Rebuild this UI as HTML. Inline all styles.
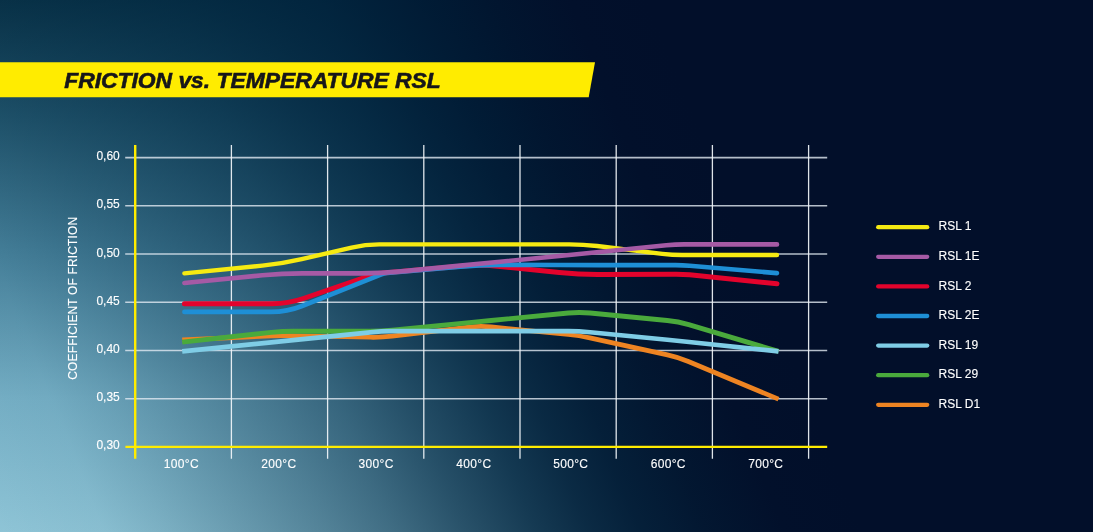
<!DOCTYPE html>
<html><head><meta charset="utf-8"><title>Friction vs. Temperature RSL</title>
<style>
html,body{margin:0;padding:0;}
body{width:1093px;height:532px;overflow:hidden;background:#020f2a;font-family:"Liberation Sans",sans-serif;}
#wrap{position:relative;width:1093px;height:532px;overflow:hidden;
 background:
  linear-gradient(68deg, rgba(0,42,68,0) 0%, rgba(0,42,68,0.04) 8%, rgba(0,42,68,0.13) 12.5%, rgba(0,40,66,0.30) 20%, rgba(0,39,65,0.42) 25%, rgba(0,38,64,0.55) 30%, rgba(0,36,62,0.71) 35.5%, rgba(0,34,60,0.85) 41%, rgba(0,30,56,0.92) 45%, rgba(0,26,52,0.965) 49%, rgba(1,21,47,0.99) 54%, rgba(2,16,43,1) 60%, rgba(2,15,42,1) 66%),
  linear-gradient(to bottom, #0a3348 0%, #22566e 22%, #46819b 47%, #76b0c6 75%, #8ec4d6 100%);
}
svg{position:absolute;left:0;top:0;will-change:transform;}
text{font-family:"Liberation Sans",sans-serif;}
</style></head><body><div id="wrap">
<svg width="1093" height="532" viewBox="0 0 1093 532">

<polygon points="0,62.2 595,62.2 588.7,97.2 0,97.2" fill="#ffec00"/>
<text x="64.2" y="88" font-size="22" font-weight="bold" font-style="italic" fill="#16161a" stroke="#16161a" stroke-width="0.6" textLength="376.5" lengthAdjust="spacingAndGlyphs">FRICTION vs. TEMPERATURE RSL</text>
<g stroke="#e2eaf2" stroke-opacity="0.8" stroke-width="1.6" fill="none">
<line x1="125.2" y1="157.60" x2="827.2" y2="157.60"/>
<line x1="125.2" y1="205.82" x2="827.2" y2="205.82"/>
<line x1="125.2" y1="254.04" x2="827.2" y2="254.04"/>
<line x1="125.2" y1="302.26" x2="827.2" y2="302.26"/>
<line x1="125.2" y1="350.48" x2="827.2" y2="350.48"/>
<line x1="125.2" y1="398.70" x2="827.2" y2="398.70"/>
</g>
<g stroke="#f2f6fa" stroke-opacity="0.92" stroke-width="1.3" fill="none">
<line x1="231.40" y1="145" x2="231.40" y2="458.8"/>
<line x1="327.60" y1="145" x2="327.60" y2="458.8"/>
<line x1="423.80" y1="145" x2="423.80" y2="458.8"/>
<line x1="520.00" y1="145" x2="520.00" y2="458.8"/>
<line x1="616.20" y1="145" x2="616.20" y2="458.8"/>
<line x1="712.40" y1="145" x2="712.40" y2="458.8"/>
<line x1="808.60" y1="145" x2="808.60" y2="458.8"/>
</g>
<path d="M182.20 339.87 L271.21 336.01 Q282.20 335.53 293.20 335.75 L370.20 337.25 Q381.20 337.46 392.13 336.18 L469.27 327.16 Q480.20 325.89 491.15 326.95 L568.25 334.47 Q579.20 335.53 589.94 337.89 L667.46 354.88 Q678.20 357.23 688.35 361.48 L778.50 399.18" stroke="#ee8422" stroke-width="4.7" fill="none" stroke-linecap="butt" stroke-linejoin="round"/>
<path d="M182.20 342.09 L271.26 332.38 Q282.20 331.19 293.20 331.19 L370.20 331.19 Q381.20 331.19 392.15 330.13 L469.25 322.61 Q480.20 321.55 491.15 320.48 L568.25 312.97 Q579.20 311.90 590.15 312.97 L667.25 320.48 Q678.20 321.55 688.74 324.69 L778.50 351.44" stroke="#4aaa3c" stroke-width="4.9" fill="none" stroke-linecap="butt" stroke-linejoin="round"/>
<path d="M182.20 351.44 L271.26 342.43 Q282.20 341.32 293.14 340.20 L370.26 332.31 Q381.20 331.19 392.20 331.19 L469.20 331.19 Q480.20 331.19 491.20 331.19 L568.20 331.19 Q579.20 331.19 590.15 332.26 L667.25 339.77 Q678.20 340.84 689.14 341.99 L778.50 351.44" stroke="#7fcde6" stroke-width="4.7" fill="none" stroke-linecap="butt" stroke-linejoin="round"/>
<path d="M184.40 303.71 L272.20 303.71 Q288.20 303.71 303.33 298.51 L372.36 274.79 Q375.20 273.81 378.19 273.54 L460.28 266.15 Q480.20 264.36 500.10 266.39 L559.30 272.45 Q579.20 274.49 599.20 274.41 L675.70 274.13 Q682.70 274.10 689.66 274.81 L777.00 283.74" stroke="#e3032c" stroke-width="5.0" fill="none" stroke-linecap="round" stroke-linejoin="round"/>
<path d="M184.40 311.90 L271.20 311.90 Q287.20 311.90 302.07 305.99 L381.41 274.44 Q384.20 273.33 387.19 273.06 L460.28 266.60 Q480.20 264.84 500.20 264.90 L559.20 265.07 Q579.20 265.13 599.20 265.13 L675.70 265.13 Q682.70 265.13 689.67 265.72 L777.00 273.14" stroke="#1e8fd6" stroke-width="4.6" fill="none" stroke-linecap="round" stroke-linejoin="round"/>
<path d="M184.40 273.33 L262.30 265.65 Q282.20 263.68 301.68 259.16 L351.56 247.56 Q365.20 244.40 379.20 244.40 L460.20 244.40 Q480.20 244.40 500.20 244.40 L569.20 244.40 Q583.20 244.40 597.10 246.05 L662.27 253.82 Q672.20 255.00 682.20 255.00 L777.00 255.00" stroke="#f6ea12" stroke-width="4.4" fill="none" stroke-linecap="round" stroke-linejoin="round"/>
<path d="M184.40 282.97 L262.30 275.29 Q282.20 273.33 302.20 273.33 L361.20 273.33 Q381.20 273.33 401.11 271.39 L460.29 265.62 Q480.20 263.68 500.11 261.74 L559.29 255.98 Q579.20 254.04 599.10 252.04 L666.25 245.30 Q675.20 244.40 684.20 244.40 L777.00 244.40" stroke="#a55aa5" stroke-width="4.6" fill="none" stroke-linecap="round" stroke-linejoin="round"/>
<g stroke="#ffec00" stroke-width="2.4" fill="none">
<line x1="135.2" y1="145" x2="135.2" y2="458.8"/>
<line x1="125.4" y1="446.92" x2="827.2" y2="446.92"/>
</g>
<g font-size="12" fill="#ffffff" stroke="#ffffff" stroke-width="0.12">
<text x="96.4" y="160.10">0,60</text>
<text x="96.4" y="208.32">0,55</text>
<text x="96.4" y="256.54">0,50</text>
<text x="96.4" y="304.76">0,45</text>
<text x="96.4" y="352.98">0,40</text>
<text x="96.4" y="401.20">0,35</text>
<text x="96.4" y="449.42">0,30</text>
<text x="163.80" y="467.8" textLength="34.8" lengthAdjust="spacing">100°C</text>
<text x="261.30" y="467.8" textLength="34.8" lengthAdjust="spacing">200°C</text>
<text x="358.60" y="467.8" textLength="34.8" lengthAdjust="spacing">300°C</text>
<text x="456.30" y="467.8" textLength="34.8" lengthAdjust="spacing">400°C</text>
<text x="553.20" y="467.8" textLength="34.8" lengthAdjust="spacing">500°C</text>
<text x="650.70" y="467.8" textLength="34.8" lengthAdjust="spacing">600°C</text>
<text x="748.20" y="467.8" textLength="34.8" lengthAdjust="spacing">700°C</text>
<text transform="translate(76.8,298.3) rotate(-90)" x="-81.4" textLength="162.8" lengthAdjust="spacing">COEFFICIENT OF FRICTION</text>
<line x1="878.2" y1="227.20" x2="927.2" y2="227.20" stroke="#f6ea12" stroke-width="4.3" stroke-linecap="round"/>
<text x="938.6" y="230.40">RSL 1</text>
<line x1="878.2" y1="256.80" x2="927.2" y2="256.80" stroke="#a55aa5" stroke-width="4.3" stroke-linecap="round"/>
<text x="938.6" y="260.00">RSL 1E</text>
<line x1="878.2" y1="286.40" x2="927.2" y2="286.40" stroke="#e3032c" stroke-width="4.3" stroke-linecap="round"/>
<text x="938.6" y="289.60">RSL 2</text>
<line x1="878.2" y1="316.00" x2="927.2" y2="316.00" stroke="#1e8fd6" stroke-width="4.3" stroke-linecap="round"/>
<text x="938.6" y="319.20">RSL 2E</text>
<line x1="878.2" y1="345.60" x2="927.2" y2="345.60" stroke="#7fcde6" stroke-width="4.3" stroke-linecap="round"/>
<text x="938.6" y="348.80">RSL 19</text>
<line x1="878.2" y1="375.20" x2="927.2" y2="375.20" stroke="#4aaa3c" stroke-width="4.3" stroke-linecap="round"/>
<text x="938.6" y="378.40">RSL 29</text>
<line x1="878.2" y1="404.80" x2="927.2" y2="404.80" stroke="#ee8422" stroke-width="4.3" stroke-linecap="round"/>
<text x="938.6" y="408.00">RSL D1</text>
</g>
</svg></div></body></html>
